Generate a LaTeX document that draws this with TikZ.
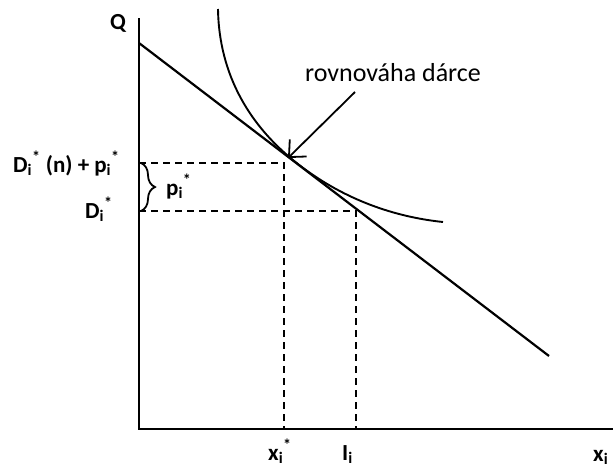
\documentclass[tikz,border=0pt]{standalone}
\usepackage{fontspec}
\setmainfont{Carlito}
\usetikzlibrary{arrows.meta,decorations.pathreplacing}
\tikzset{
  axis/.style={line width=2.2pt},
  budget/.style={line width=2.2pt},
  indiff/.style={line width=1.9pt},
  guide/.style={line width=1.4pt, dash pattern=on 7pt off 5pt},
  lbl/.style={font=\bfseries\fontsize{23}{27}\selectfont, inner sep=0pt},
  note/.style={font=\fontsize{26}{30}\selectfont, inner sep=0pt},
  pointer/.style={line width=1.8pt, -{Straight Barb[length=13pt,width=24pt,line width=1.8pt]}},
  bracestyle/.style={line width=1.8pt, decorate, decoration={brace, amplitude=14pt}}
}
\begin{document}
\begin{tikzpicture}[x=1pt, y=-1pt]
\useasboundingbox (0,0) rectangle (613,471);
% axes
\coordinate (O) at (139,429);
\coordinate (Ytop) at (139,18);
\coordinate (Xend) at (613,429);
\draw[axis] (Ytop) -- (O) -- (Xend);
% budget line
\coordinate (Bs) at (139,43);
\coordinate (Be) at (549,356);
\draw[budget] (Bs) -- (Be);
% indifference curve
\coordinate (Ct) at (218,9);
\coordinate (Cp) at (300,165.6);
\coordinate (Ce) at (443,222);
\draw[indiff] (Ct) .. controls (219,75) and (250,127.5) .. (Cp)
  .. controls (345,200) and (395,217) .. (Ce);
% guide lines
\coordinate (A1) at (139,163);
\coordinate (C1) at (284,163);
\coordinate (X1) at (284,429);
\coordinate (A2) at (139,211);
\coordinate (C2) at (356,211);
\coordinate (X2) at (356,429);
\draw[guide] (A1) -- (C1) -- (X1);
\draw[guide] (A2) -- (C2) -- (X2);
% brace
\coordinate (Bt) at (141,163);
\coordinate (Bb) at (141,211);
\draw[bracestyle] (Bt) -- (Bb);
% pointer
\node[note] (eq) at (393,73) {rovnováha dárce};
\coordinate (Atail) at (355,92);
\coordinate (T) at (288,158);
\draw[pointer] (Atail) -- (T);
% labels
\node[lbl] (q) at (118,23) {Q};
\node[lbl, anchor=base west] (dn) at (13,172) {D\textsubscript{i}\textsuperscript{*} (n) + p\textsubscript{i}\textsuperscript{*}};
\node[lbl, anchor=base west] (d) at (85,218) {D\textsubscript{i}\textsuperscript{*}};
\node[lbl, anchor=base west] (p) at (166,195) {p\textsubscript{i}\textsuperscript{*}};
\node[lbl, anchor=base west] (xs) at (268,460) {x\textsubscript{i}\textsuperscript{*}};
\node[lbl, anchor=base west] (ii) at (342,460) {I\textsubscript{i}};
\node[lbl, anchor=base west] (xi) at (593,461) {x\textsubscript{i}};
\end{tikzpicture}
\end{document}
